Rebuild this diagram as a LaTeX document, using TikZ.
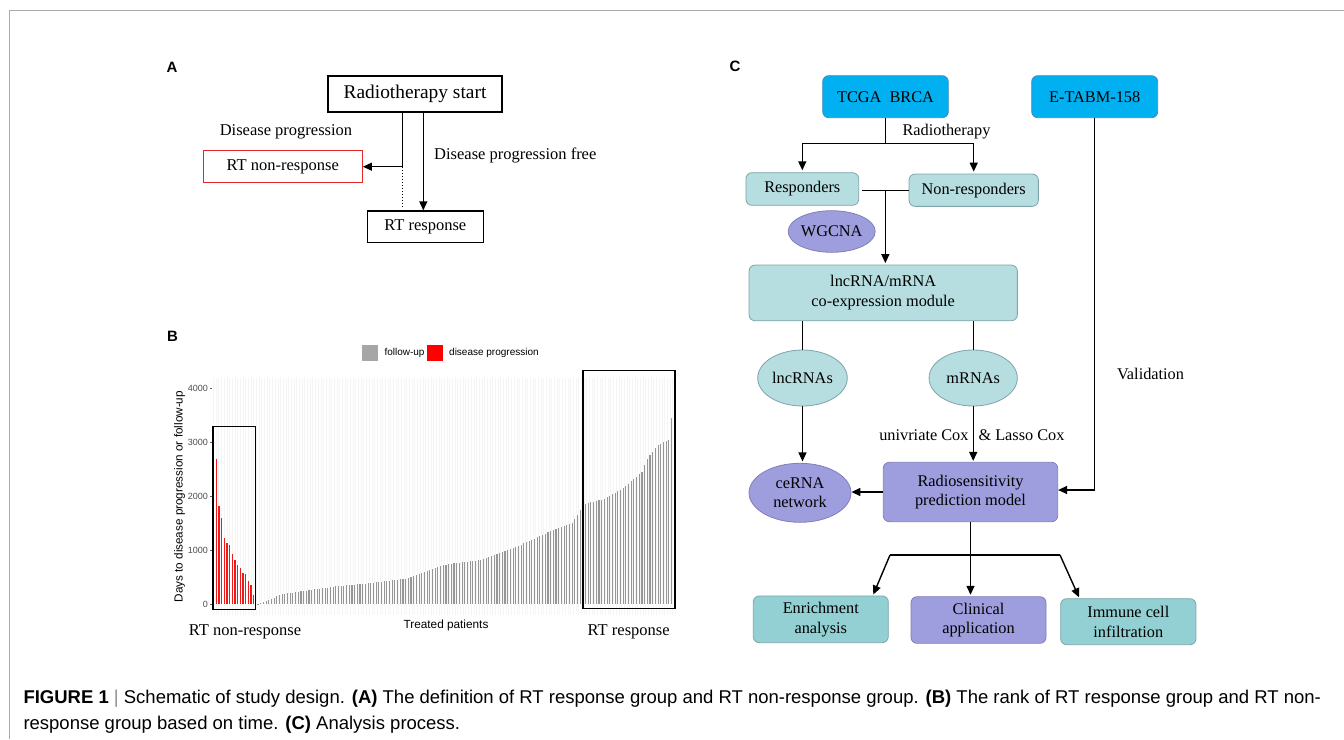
\documentclass[tikz,border=0pt]{standalone}
\usepackage{fontspec}
\setmainfont{Liberation Serif}
\newfontfamily\sansf{Liberation Sans}
\usetikzlibrary{arrows.meta,shapes.geometric,calc}
\definecolor{cblue}{RGB}{0,176,240}
\definecolor{cblueb}{RGB}{70,140,185}
\definecolor{tealA}{RGB}{182,222,224}
\definecolor{tealB}{RGB}{146,208,211}
\definecolor{tealb}{RGB}{125,165,170}
\definecolor{lav}{RGB}{158,157,222}
\definecolor{lavb}{RGB}{128,128,185}
\definecolor{barred}{RGB}{240,25,25}
\definecolor{bargray}{RGB}{150,150,150}
\definecolor{framegray}{RGB}{170,170,170}
\definecolor{redbox}{RGB}{230,40,40}
\tikzset{
  arr/.style={line width=1.4pt,-{Triangle[length=9pt,width=8pt]}},
  ln/.style={line width=1.4pt},
  boxA/.style={draw,line width=1.2pt,inner sep=0pt,font=\fontsize{16.5}{19}\selectfont},
  lblA/.style={inner sep=0pt,font=\fontsize{16.5}{19}\selectfont},
  lblC/.style={inner sep=0pt,font=\fontsize{16.3}{19.7}\selectfont},
  rbox/.style={draw,rounded corners=6pt,line width=0.8pt,inner sep=0pt,align=center,font=\fontsize{16.3}{19.7}\selectfont},
  bluebox/.style={rbox,fill=cblue,draw=cblueb},
  tealbox/.style={rbox,fill=tealA,draw=tealb},
  teal2box/.style={rbox,fill=tealB,draw=tealb},
  lavbox/.style={rbox,fill=lav,draw=lavb},
  ell/.style={ellipse,draw,line width=0.8pt,inner sep=0pt,align=center,font=\fontsize{16.3}{19.7}\selectfont},
  panellbl/.style={inner sep=0pt,font=\sansf\bfseries\fontsize{15}{18}\selectfont},
  ticklbl/.style={inner sep=0pt,anchor=east,text=black!70,font=\sansf\fontsize{9}{10}\selectfont},
  redbar/.style={draw=barred,line width=1.2pt},
  graybar/.style={draw=bargray,line width=1.1pt},
  gridl/.style={draw=black!4,line width=1pt},
  plotbox/.style={draw=black,line width=1.5pt},
  captxt/.style={inner sep=0pt,anchor=west,font=\sansf\fontsize{18.5}{22}\selectfont}
}
\begin{document}
\begin{tikzpicture}[x=1pt,y=-1pt]
\useasboundingbox (0,0) rectangle (1344,739);
\fill[white] (0,0) rectangle (1344,739);
% frame
\draw[framegray,line width=1pt] (9.5,739) -- (9.5,10.5) -- (1344,10.5);

% ---------------- Panel A ----------------
\node[panellbl] (labA) at (172,67) {A};
\node[boxA,minimum width=174,minimum height=36,font=\fontsize{19.4}{22}\selectfont] (rs) at (415,94) {Radiotherapy start};
\node[boxA,draw=redbox,minimum width=159,minimum height=32] (nr) at (282.8,166.7) {RT non-response};
\node[boxA,minimum width=116,minimum height=31.7] (rr) at (425.3,226.8) {RT response};
\coordinate (a1) at ([xshift=-12.7pt]rs.south);
\coordinate (a2) at ([xshift=8.3pt]rs.south);
\draw[arr] (a1) |- (nr.east);
\draw[line width=1pt,dotted] (a1 |- nr.east) -- ([yshift=3pt]a1 |- rr.north);
\draw[arr] (a2) -- (a2 |- rr.north);
\node[lblA] (dp) at (286,131.7) {Disease progression};
\node[lblA,anchor=west] (dpf) at (434,155) {Disease progression free};

% ---------------- Panel B ----------------
\node[panellbl] (labB) at (172.5,336) {B};
% legend
\fill[bargray!85] (362.3,345) rectangle (378.3,361);
\node[inner sep=0pt,anchor=west,font=\sansf\fontsize{10}{12}\selectfont] (lg1) at (384.3,352.7) {follow-up};
\fill[red] (427.3,345) rectangle (443.3,361);
\node[inner sep=0pt,anchor=west,font=\sansf\fontsize{10}{12}\selectfont] (lg2) at (449,352.7) {disease progression};
% faint grid
\foreach \k in {0,...,172} {
  \draw[gridl] ({213.6+\k*2.685},378) -- ({213.6+\k*2.685},615);
}
% y axis
\foreach \v/\t in {0/0,1000/1000,2000/2000,3000/3000,4000/4000} {
  \node[ticklbl] at (208,{604.3-\v*0.054}) {\t};
  \draw[black!60,line width=0.8pt] (209.5,{604.3-\v*0.054}) -- (212,{604.3-\v*0.054});
}
\node[rotate=90,inner sep=0pt,font=\sansf\fontsize{11.7}{14}\selectfont] (ytitle) at (179.6,496.7) {Days to disease progression or follow-up};
% red bars
\foreach \i/\v in {0/2720,1/2700,2/1820,3/1600,4/1230,5/1130,6/1100,7/930,8/820,9/730,10/680,11/580,12/560,13/440,14/350,15/170} {
  \draw[redbar] ({213.6+\i*2.67},604.3) -- ({213.6+\i*2.67},{604.3-\v*0.054});
}
% gray bars
\foreach \ja/\va/\jb/\vb in {0/10/3/60, 3/60/9/190, 9/190/16/240, 16/240/29/330, 29/330/43/400, 43/400/56/480, 56/480/69/730, 69/730/83/820, 83/820/96/1060, 96/1060/110/1376, 110/1376/117/1500, 117/1500/121/1820, 121/1820/123/1880, 123/1880/129/1950, 129/1950/136/2150, 136/2150/143/2450, 143/2450/145/2700, 145/2700/149/2950, 149/2950/153/3050, 153/3050/154/3450, 154/3450/155/4000} {
  \pgfmathtruncatemacro{\je}{\jb-1}
  \foreach \j in {\ja,...,\je} {
    \pgfmathsetmacro{\vv}{\va+(\vb-\va)*(\j-\ja)/(\jb-\ja)}
    \pgfmathsetmacro{\xx}{258+\j*2.685}
    \draw[graybar] (\xx,604.3) -- (\xx,{604.3-\vv*0.054});
  }
}
\draw[graybar] ({258+155*2.685},604.3) -- ({258+155*2.685},{604.3-4000*0.054});
% boxes
\draw[plotbox] (212.9,426.7) rectangle (255.4,609.3);
\draw[plotbox] (583.2,370.7) rectangle (675,608.7);
\node[lblA] (bnr) at (245,631.5) {RT non-response};
\node[lblA] (brr) at (628.7,632.3) {RT response};
\node[inner sep=0pt,font=\sansf\fontsize{11.8}{14}\selectfont] (tp) at (446,625) {Treated patients};

% ---------------- Panel C ----------------
\node[panellbl] (labC) at (735,66.7) {C};
\node[bluebox,minimum width=125.6,minimum height=42] (tcga) at (885.5,96.7) {TCGA\ \ BRCA};
\node[bluebox,minimum width=126,minimum height=42] (etabm) at (1094.7,96.7) {E-TABM-158};
\node[tealbox,minimum width=112.7,minimum height=32.6] (resp) at (802.3,189) {Responders};
\node[tealbox,minimum width=129.3,minimum height=32.3] (nonresp) at (973.7,190.2) {Non-responders};
\node[ell,fill=lav,draw=lavb,minimum width=70,minimum height=41.6] (wgcna) at (831.7,231.5) {WGCNA};
\node[tealbox,minimum width=268.3,minimum height=55.7] (module) at (883.2,292.9) {lncRNA/mRNA\\co-expression module};
\node[ell,fill=tealA,draw=tealb,minimum width=89.6,minimum height=56] (lnc) at (802.5,378) {lncRNAs};
\node[ell,fill=tealA,draw=tealb,minimum width=88.3,minimum height=56] (mrna) at (973.2,378) {mRNAs};
\node[ell,fill=lav,draw=lavb,minimum width=102,minimum height=59] (cerna) at (800,492.8) {ceRNA\\network};
\node[lavbox,minimum width=174.4,minimum height=59.4] (radio) at (970.5,492) {Radiosensitivity\\prediction model};
\node[teal2box,minimum width=135,minimum height=46.7] (enrich) at (820.8,619.3) {Enrichment\\analysis};
\node[lavbox,minimum width=135,minimum height=46.6] (clin) at (978.5,620) {Clinical\\application};
\node[teal2box,minimum width=135.3,minimum height=46] (immune) at (1128.3,621.7) {Immune cell\\infiltration};

% connectors
\coordinate (c1) at (885.5,143.3);
\draw[ln] (tcga.south) -- (c1);
\draw[arr] (c1) -| ([yshift=2pt]resp.north);
\draw[arr] (c1) -| ([yshift=2pt]nonresp.north);
\node[lblC] (radiolbl) at (946.5,131.7) {Radiotherapy};
\coordinate (m1) at ([xshift=3pt,yshift=-1.2pt]resp.east);
\coordinate (c2) at ($(m1)!0.5!(m1 -| nonresp.west)$);
\draw[ln] (m1) -- (m1 -| nonresp.west);
\draw[arr] (c2) -- ([yshift=1.5pt]c2 |- module.north);
\draw[ln] (module.south -| lnc.north) -- (lnc.north);
\draw[ln] (module.south -| mrna.north) -- (mrna.north);
\draw[arr] (lnc.south) -- ([yshift=1.5pt]lnc.south |- cerna.north);
\draw[arr] (mrna.south) -- ([yshift=1pt]mrna.south |- radio.north);
\node[lblC,anchor=east] (uc) at (968.7,435) {univriate Cox};
\node[lblC,anchor=west] (lc) at (978.3,435) {\& Lasso Cox};
\draw[arr] (radio.west) -- (radio.west -| cerna.east);
\draw[arr] (etabm.south) |- ([yshift=2pt]radio.east);
\node[lblC] (valid) at (1150.5,374.3) {Validation};
\coordinate (cl) at (890,555);
\coordinate (cr) at (1060,555);
\draw[ln] (cl) -- (cr);
\draw[arr] (radio.south) -- ([yshift=1.5pt]radio.south |- clin.north);
\draw[arr] (cl) -- ([xshift=52.5pt,yshift=1pt]enrich.north);
\draw[arr] (cr) -- ([xshift=-49.3pt,yshift=1pt]immune.north);

% ---------------- Caption ----------------
\node[captxt] (cap1) at (23.3,698.3) {{\bfseries FIGURE 1} {\color{black!45}|} Schematic of study design. {\bfseries (A)} The definition of RT response group and RT non-response group. {\bfseries (B)} The rank of RT response group and RT non-};
\node[captxt] (cap2) at (23.3,725) {response group based on time. {\bfseries (C)} Analysis process.};
\end{tikzpicture}
\end{document}
